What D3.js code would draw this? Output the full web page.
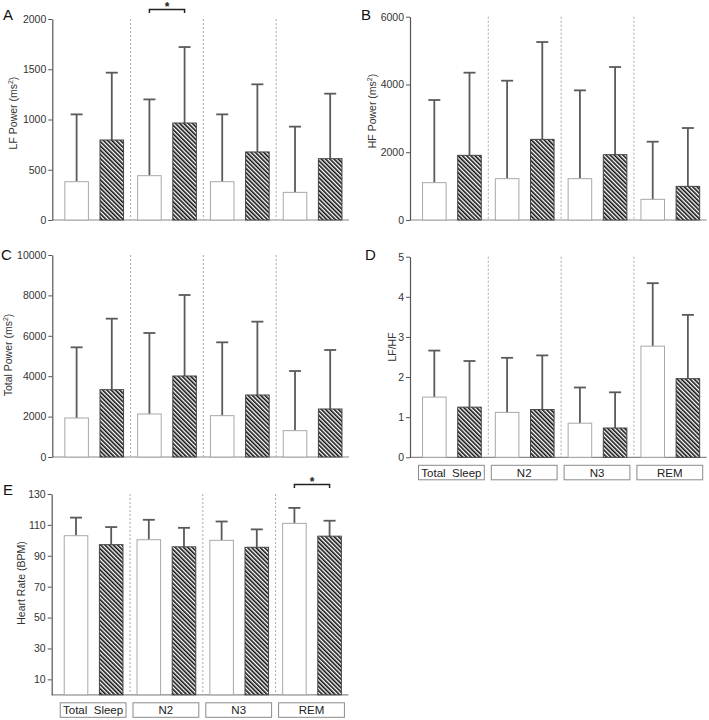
<!DOCTYPE html>
<html><head><meta charset="utf-8">
<script src="https://cdn.jsdelivr.net/npm/d3@7"></script>
<style>
body{margin:0;background:#fff}
svg{display:block}
text{font-family:"Liberation Sans",Arial,Helvetica,sans-serif}
</style>
</head><body>
<svg id="chart" width="709" height="720"></svg>
<script>
// ---------- data ----------
const categories = ["Total  Sleep", "N2", "N3", "REM"];
const series = ["open", "hatched"];

const lfOpenMean = [381, 441, 381, 275];
const lfOpenSD = [670, 759, 670, 654];
const lfHatchMean = [796, 965, 677, 610];
const lfHatchSD = [670, 756, 673, 647];
const lfTicks = [0, 500, 1000, 1500, 2000];

const hfOpenMean = [1102, 1220, 1220, 610];
const hfOpenSD = [2439, 2891, 2606, 1701];
const hfHatchMean = [1908, 2380, 1928, 993];
const hfHatchSD = [2440, 2872, 2587, 1722];
const hfTicks = [0, 2000, 4000, 6000];

const tpOpenMean = [1931, 2129, 2046, 1304];
const tpOpenSD = [3498, 4010, 3631, 2953];
const tpHatchMean = [3333, 4010, 3069, 2376];
const tpHatchSD = [3515, 4010, 3631, 2921];
const tpTicks = [0, 2000, 4000, 6000, 8000, 10000];

const ratioOpenMean = [1.50, 1.12, 0.85, 2.77];
const ratioOpenSD = [1.16, 1.36, 0.89, 1.57];
const ratioHatchMean = [1.25, 1.19, 0.73, 1.96];
const ratioHatchSD = [1.15, 1.35, 0.89, 1.59];
const ratioTicks = [0, 1, 2, 3, 4, 5];

const hrOpenMean = [103.0, 100.4, 100.0, 111.0];
const hrOpenSD = [11.7, 12.9, 12.2, 10.0];
const hrHatchMean = [97.2, 95.8, 95.5, 102.7];
const hrHatchSD = [11.4, 12.3, 11.6, 10.0];
const hrTicks = [10, 30, 50, 70, 90, 110, 130];

// ---------- layout ----------
const panels = [
  {letter:"A", title:"LF Power (ms", sup:"2", om:lfOpenMean, os:lfOpenSD, hm:lfHatchMean, hs:lfHatchSD,
   ticks:lfTicks, domain:[0,2000], left:52.3, top:19, bottom:220, boxes:false, sig:"N2",
   lx:3, ly:19.5, tx:17, ty:113},
  {letter:"B", title:"HF Power (ms", sup:"2", om:hfOpenMean, os:hfOpenSD, hm:hfHatchMean, hs:hfHatchSD,
   ticks:hfTicks, domain:[0,6000], left:410, top:16.7, bottom:220, boxes:false, sig:null,
   lx:361, ly:19.5, tx:376, ty:111},
  {letter:"C", title:"Total Power (ms", sup:"2", om:tpOpenMean, os:tpOpenSD, hm:tpHatchMean, hs:tpHatchSD,
   ticks:tpTicks, domain:[0,10000], left:52.3, top:255, bottom:457, boxes:false, sig:null,
   lx:1, ly:259.5, tx:12, ty:355},
  {letter:"D", title:"LF/HF", sup:null, om:ratioOpenMean, os:ratioOpenSD, hm:ratioHatchMean, hs:ratioHatchSD,
   ticks:ratioTicks, domain:[0,5], left:410, top:256.7, bottom:457.3, boxes:true, sig:null,
   lx:365, ly:259.5, tx:396, ty:347},
  {letter:"E", title:"Heart Rate (BPM)", sup:null, om:hrOpenMean, os:hrOpenSD, hm:hrHatchMean, hs:hrHatchSD,
   ticks:hrTicks, domain:[0,130], left:51.7, top:494, bottom:694.8, boxes:true, sig:"REM",
   lx:3, ly:494.5, tx:25, ty:583}
];

const svg = d3.select("#chart");
const defs = svg.append("defs");
const pat = defs.append("pattern").attr("id","hatch")
  .attr("patternUnits","userSpaceOnUse").attr("width",3).attr("height",3)
  .attr("patternTransform","rotate(-45)");
pat.append("rect").attr("width",3).attr("height",3).attr("fill","#fff");
pat.append("rect").attr("x",0).attr("y",0).attr("width",1.6).attr("height",3).attr("fill","#111");

const groupW = 72.8;

panels.forEach(p => {
  const g = svg.append("g");
  const y = d3.scaleLinear().domain(p.domain).range([p.bottom, p.top]);
  const x0 = p.left + 5.5;
  const x = d3.scaleBand().domain(categories).range([x0, x0 + 4*groupW]);
  const xi = d3.scaleBand().domain(series).range([0, x.bandwidth()])
    .paddingInner(0.33).paddingOuter(0.2);

  // x baseline
  g.append("line").attr("x1", p.left).attr("x2", x.range()[1])
    .attr("y1", p.bottom).attr("y2", p.bottom)
    .attr("stroke","#8a8a8a").attr("stroke-width",1.2);

  // separators
  categories.slice(1).forEach(c => {
    g.append("line").attr("x1", x(c)).attr("x2", x(c))
      .attr("y1", p.top).attr("y2", p.bottom)
      .attr("stroke","#aaa").attr("stroke-width",1).attr("stroke-dasharray","2,2");
  });

  // y axis
  const ax = g.append("g").attr("transform", `translate(${p.left},0)`)
    .call(d3.axisLeft(y).tickValues(p.ticks).tickFormat(d3.format("d"))
      .tickSize(4).tickSizeOuter(0).tickPadding(2));
  ax.select(".domain").attr("stroke","#555").attr("stroke-width",1.2);
  ax.selectAll(".tick line").attr("stroke","#555");
  ax.selectAll(".tick text").attr("fill","#333").attr("font-size",10.5)
    .style("font-family",'"Liberation Sans",Arial,sans-serif');

  // bars
  const rows = [];
  categories.forEach((c,i) => {
    rows.push({c, s:"open", m:p.om[i], sd:p.os[i]});
    rows.push({c, s:"hatched", m:p.hm[i], sd:p.hs[i]});
  });
  rows.forEach(r => {
    const bx = x(r.c) + xi(r.s), bw = xi.bandwidth(), cx = bx + bw/2;
    g.append("line").attr("x1",cx).attr("x2",cx)
      .attr("y1", y(r.m)).attr("y2", y(r.m + r.sd))
      .attr("stroke","#5a5a5a").attr("stroke-width",1.8);
    g.append("line").attr("x1",cx-6).attr("x2",cx+6)
      .attr("y1", y(r.m + r.sd)).attr("y2", y(r.m + r.sd))
      .attr("stroke","#5a5a5a").attr("stroke-width",1.8);
    g.append("rect").attr("x", bx).attr("y", y(r.m))
      .attr("width", bw).attr("height", y(p.domain[0]) - y(r.m))
      .attr("fill", r.s === "open" ? "#fff" : "url(#hatch)")
      .attr("stroke", r.s === "open" ? "#a8a8a8" : "#444")
      .attr("stroke-width", 1);
  });

  // category boxes
  if (p.boxes) {
    categories.forEach(c => {
      g.append("rect").attr("x", x(c)+3).attr("y", p.bottom+8)
        .attr("width", x.bandwidth()-7).attr("height", 14.5)
        .attr("fill","#fff").attr("stroke","#8a8a8a").attr("stroke-width",1);
      g.append("text").attr("x", x(c)+3+(x.bandwidth()-7)/2).attr("y", p.bottom+19.5)
        .attr("text-anchor","middle").attr("font-size",11.5).attr("fill","#222")
        .style("white-space","pre").text(c);
    });
  }

  // significance bracket
  if (p.sig) {
    const xa = x(p.sig) + xi("open") + xi.bandwidth()/2;
    const xb = x(p.sig) + xi("hatched") + xi.bandwidth()/2;
    const by = p.top - 9.5;
    g.append("path").attr("d", `M${xa},${by+3.5}V${by}H${xb}V${by+3.5}`)
      .attr("fill","none").attr("stroke","#222").attr("stroke-width",1.5);
    g.append("text").attr("x",(xa+xb)/2).attr("y", by+1.5)
      .attr("text-anchor","middle").attr("font-size",12).attr("font-weight","bold")
      .attr("fill","#222").text("*");
  }

  // panel letter
  svg.append("text").attr("x", p.lx).attr("y", p.ly).attr("font-size",15)
    .attr("fill","#111").text(p.letter);

  // axis title
  const t = svg.append("text").attr("transform", `translate(${p.tx},${p.ty}) rotate(-90)`)
    .attr("text-anchor","middle").attr("font-size",10.5).attr("fill","#333");
  t.append("tspan").text(p.title);
  if (p.sup) {
    t.append("tspan").attr("dy",-4).attr("font-size",7).text(p.sup);
    t.append("tspan").attr("dy",4).text(")");
  }
});
</script>
</body></html>
